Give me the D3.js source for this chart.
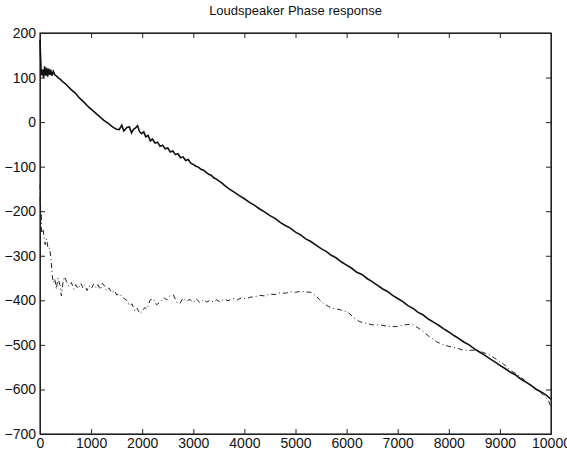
<!DOCTYPE html>
<html>
<head>
<meta charset="utf-8">
<script src="https://cdn.jsdelivr.net/npm/d3@7"></script>
<style>
  body { margin: 0; background: #fff; }
  text { font-family: "Liberation Sans", Arial, sans-serif; fill: #111; }
</style>
</head>
<body>
<div id="chart"></div>
<script>
// frequency axis (Hz) and phase (degrees)
var solidFreq = [0, 10, 20, 30, 50, 70, 90, 110, 130, 150, 170, 190, 210, 230, 260, 290, 320, 350,
  400, 450, 500, 550, 600, 650, 700, 750, 800, 850, 900, 950, 1000, 1050, 1100, 1150, 1200, 1250,
  1300, 1350, 1400, 1450, 1500, 1550, 1600, 1640, 1700, 1750, 1790, 1830, 1870, 1910, 1950, 1990,
  2030, 2070, 2115, 2160, 2200, 2250, 2300, 2350, 2400, 2450, 2500, 2550, 2600, 2650, 2700, 2750,
  2800, 2850, 2900, 2950, 3000, 3050, 3100, 3150, 3200, 3250, 3300, 3350, 3400, 3450, 3500, 3550,
  3600, 3700, 3800, 3900, 4000, 4100,
  4200, 4300, 4400, 4500, 4600, 4700, 4800, 4900, 5000, 5100, 5200, 5300, 5400, 5500, 5600, 5700,
  5800, 5900, 6000, 6100, 6200, 6300, 6400, 6500, 6600, 6700, 6800, 6900, 7000, 7100, 7200, 7300,
  7400, 7500, 7600, 7700, 7800, 7900, 8000, 8100, 8200, 8300, 8400, 8500, 8600, 8700, 8800, 8900,
  9000, 9100, 9200, 9300, 9400, 9500, 9600, 9700, 9800, 9900, 10000];
var solidPhase = [185, 150, 120, 105, 118, 100, 125, 104, 122, 102, 120, 106, 118, 104, 114, 106, 104, 100,
  96, 90, 86, 80, 74, 69, 64, 57, 51, 46, 40, 34, 29, 24, 19, 14, 9, 4,
  0, -4, -9, -13, -16, -17, -7, -20, -12, -11, -24, -16, -13, -8, -22, -26,
  -22, -33, -30, -42, -38, -47, -45, -54, -52, -60, -58, -67, -65, -73, -71, -80,
  -78, -86, -84, -92, -95, -99, -101, -106, -108, -113, -117, -119, -125, -128, -132, -136,
  -141, -150, -157, -165, -172, -180,
  -187, -195, -202, -210, -216, -225, -232, -238, -247, -253, -262, -268, -276, -284, -290, -299,
  -305, -314, -321, -328, -337, -342, -351, -358, -366, -374, -380, -389, -396, -403, -412, -418,
  -427, -433, -442, -449, -456, -464, -471, -479, -486, -494, -500, -509, -516, -523, -531, -538,
  -546, -553, -561, -567, -576, -583, -590, -599, -605, -612, -622];

var dashFreq = [0, 5, 10, 15, 20, 30, 60, 100, 130, 160, 190, 220, 240, 260, 290, 320, 350, 390,
  420, 450, 480, 520, 560, 615, 660, 700, 745, 800, 840, 875, 920, 960, 1005, 1050, 1100, 1135,
  1180, 1220, 1265, 1300, 1350, 1400, 1460, 1500, 1560, 1600, 1650, 1700, 1750, 1800, 1860, 1900,
  1955, 2000, 2050, 2090, 2150, 2215, 2280, 2350, 2420, 2480, 2540, 2610, 2680, 2740, 2800, 2860,
  2935, 3000, 3060, 3130, 3200, 3260, 3325, 3400, 3455, 3520, 3600, 3680, 3780, 3860, 3950, 4030,
  4110, 4200, 4300, 4400, 4500, 4600, 4700, 4800, 4900, 5000, 5100, 5200, 5300, 5400, 5480, 5550,
  5650, 5740, 5870, 5960, 6060, 6150, 6260, 6400, 6500, 6650, 6800, 6980, 7100, 7200, 7305, 7400,
  7500, 7600, 7700, 7760, 7900, 8025, 8150, 8285, 8400, 8545, 8650, 8805, 8900, 9000, 9065, 9150,
  9250, 9330, 9450, 9590, 9700, 9850, 9950, 10000];
var dashPhase = [-140, -190, -160, -230, -200, -250, -240, -275, -262, -285, -283, -313, -345, -360, -352, -375, -350, -365,
  -390, -360, -347, -358, -368, -360, -375, -365, -374, -362, -372, -365, -378, -368, -374, -363, -372, -365,
  -376, -362, -368, -378, -372, -383, -378, -388, -385, -392, -396, -400, -412, -408, -424, -418,
  -430, -425, -416, -420, -400, -396, -410, -404, -394, -399, -390, -388, -405, -407, -395, -402,
  -398, -405, -397, -405, -398, -404, -400, -404, -399, -403, -397, -401, -396, -399, -394, -397,
  -393, -392, -389, -390, -386, -387, -383, -384, -381, -382, -380, -381, -382, -390, -400, -407,
  -414, -418, -421, -424, -430, -440, -448, -452, -455, -455, -458, -459, -456, -454, -455, -462,
  -470, -480, -488, -493, -500, -504, -507, -512, -512, -512, -516, -523, -530, -538, -542, -552,
  -560, -566, -576, -590, -598, -612, -625, -640];

var xTicks = [0, 1000, 2000, 3000, 4000, 5000, 6000, 7000, 8000, 9000, 10000];
var yTicks = [200, 100, 0, -100, -200, -300, -400, -500, -600, -700];

var margin = {top: 33, right: 16, bottom: 17, left: 40},
    width = 567 - margin.left - margin.right,
    height = 451 - margin.top - margin.bottom;

var svg = d3.select("#chart").append("svg")
    .attr("width", 567)
    .attr("height", 451)
  .append("g")
    .attr("transform", "translate(" + margin.left + "," + margin.top + ")");

var x = d3.scaleLinear().domain([0, 10000]).range([0, width]);
var y = d3.scaleLinear().domain([-700, 200]).range([height, 0]);

// title
svg.append("text")
    .attr("x", width / 2)
    .attr("y", -18)
    .attr("text-anchor", "middle")
    .style("font-size", "13px")
    .text("Loudspeaker Phase response");

// axes, matlab style: ticks inward on all four sides
var fmt = d3.format("d");
svg.append("g")
    .attr("class", "axis")
    .attr("transform", "translate(0," + height + ")")
    .call(d3.axisBottom(x).tickValues(xTicks).tickFormat(fmt).tickSizeInner(-5).tickSizeOuter(0).tickPadding(4));
svg.append("g")
    .attr("class", "axis")
    .call(d3.axisTop(x).tickValues(xTicks).tickFormat("").tickSizeInner(-5).tickSizeOuter(0));
svg.append("g")
    .attr("class", "axis")
    .call(d3.axisLeft(y).tickValues(yTicks).tickFormat(fmt).tickSizeInner(-5).tickSizeOuter(0).tickPadding(4));
svg.append("g")
    .attr("class", "axis")
    .attr("transform", "translate(" + width + ",0)")
    .call(d3.axisRight(y).tickValues(yTicks).tickFormat("").tickSizeInner(-5).tickSizeOuter(0));

svg.selectAll(".axis text").style("font-size", "14px").style("font-family", "'Liberation Sans', Arial, sans-serif").attr("fill", "#111");
svg.selectAll(".axis path, .axis line").attr("stroke", "#222");

// frame
svg.append("rect")
    .attr("width", width)
    .attr("height", height)
    .attr("fill", "none")
    .attr("stroke", "#222")
    .attr("stroke-width", 1.2);

var line = d3.line()
    .x(function(d) { return x(d[0]); })
    .y(function(d) { return y(d[1]); });

var solid = solidFreq.map(function(f, i) { return [f, solidPhase[i]]; });
var dash = dashFreq.map(function(f, i) { return [f, dashPhase[i]]; });

svg.append("path")
    .datum(dash)
    .attr("d", line)
    .attr("fill", "none")
    .attr("stroke", "#222")
    .attr("stroke-width", 1)
    .attr("stroke-dasharray", "5,3,1,3");

svg.append("path")
    .datum(solid)
    .attr("d", line)
    .attr("fill", "none")
    .attr("stroke", "#111")
    .attr("stroke-width", 1.6);
</script>
</body>
</html>
